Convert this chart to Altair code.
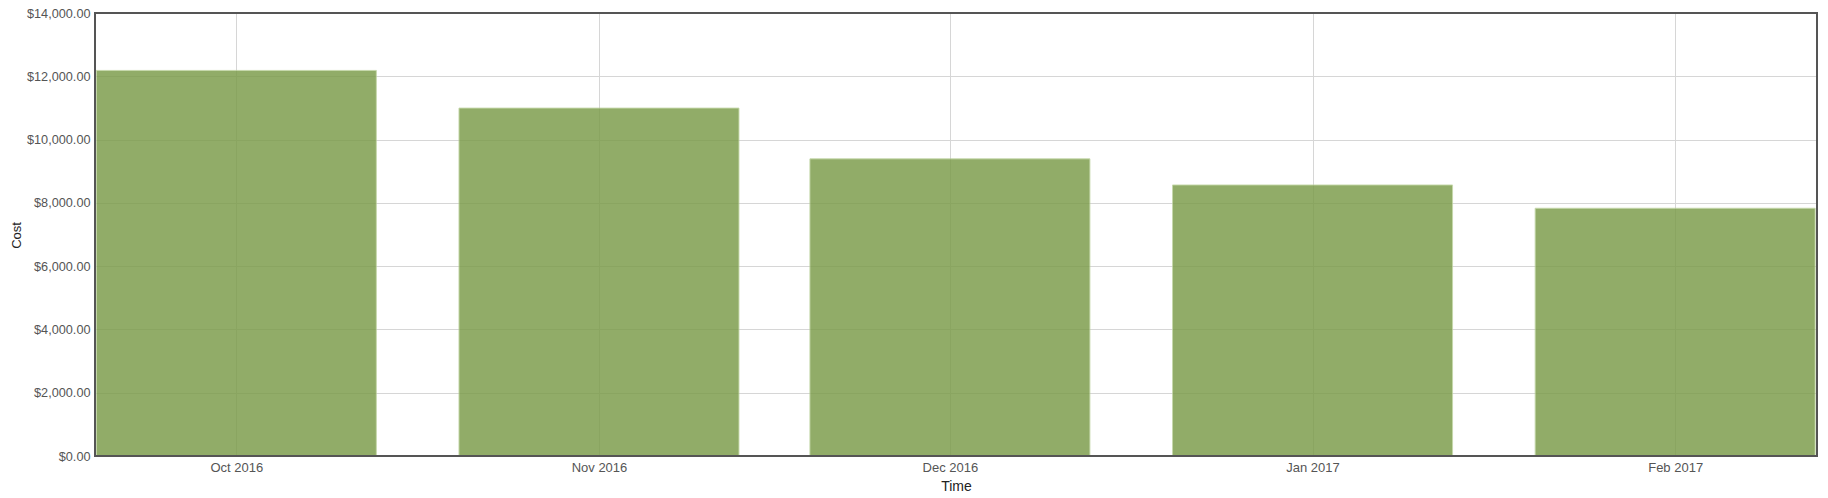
import altair as alt
import pandas as pd

months = ["2016-10-01", "2016-11-01", "2016-12-01", "2017-01-01", "2017-02-01"]
costs = [12185, 10995, 9390, 8565, 7830]
y_ticks = [0, 2000, 4000, 6000, 8000, 10000, 12000, 14000]

df = pd.DataFrame({"month": months, "cost": costs})

tick_dates = [alt.DateTime(year=int(m[:4]), month=int(m[5:7]), date=1, utc=True) for m in months]

x_domain = [
    alt.DateTime(year=2016, month=9, date=18, hours=22, utc=True),
    alt.DateTime(year=2017, month=2, date=13, hours=3, utc=True),
]

FONT = "Liberation Sans"

bars = (
    alt.Chart(df)
    .mark_bar(size=280, clip=True, color="#7a9b48", opacity=0.82,
              stroke="#b9cf98", strokeWidth=1, strokeOpacity=0.9)
    .encode(
        x=alt.X(
            "month:T",
            title="Time",
            scale=alt.Scale(type="utc", domain=x_domain, nice=False, padding=0),
            axis=alt.Axis(
                values=tick_dates,
                labelExpr="utcFormat(datum.value, '%b %Y')",
                grid=True,
                gridColor="#d6d6d6",
                gridWidth=1,
                domain=False,
                ticks=False,
                labelPadding=5,
                labelFont=FONT,
                labelFontSize=13,
                labelColor="#555555",
                titleFont=FONT,
                titleFontSize=14,
                titleFontWeight="normal",
                titleColor="#222222",
                titleY=30,
                titleBaseline="middle",
            ),
        ),
        y=alt.Y(
            "cost:Q",
            title="Cost",
            scale=alt.Scale(domain=[0, 14000], nice=False, padding=0),
            axis=alt.Axis(
                values=y_ticks,
                format="$,.2f",
                grid=True,
                gridColor="#d6d6d6",
                gridWidth=1,
                domain=False,
                ticks=False,
                labelPadding=5,
                labelFont=FONT,
                labelFontSize=12.7,
                labelColor="#555555",
                titleFont=FONT,
                titleFontSize=13,
                titleFontWeight="normal",
                titleColor="#222222",
                titleX=-79,
                titleY=222,
                titleAngle=270,
                titleAlign="center",
                titleBaseline="middle",
            ),
        ),
    )
)

frame = (
    alt.Chart(pd.DataFrame({"frame": [0]}))
    .mark_rect(fill=None, stroke="#555555", strokeWidth=2)
    .encode(
        x=alt.value(0),
        x2=alt.value("width"),
        y=alt.value(0),
        y2=alt.value("height"),
    )
)

chart = (
    alt.layer(bars, frame)
    .properties(
        width=1722,
        height=443,
        autosize=alt.AutoSizeParams(type="none"),
        padding={"left": 87, "top": 5, "right": 3, "bottom": 40},
    )
    .configure(background="white")
    .configure_view(stroke=None)
)

chart.save("out.html", embed_options={"renderer": "svg", "actions": False})
